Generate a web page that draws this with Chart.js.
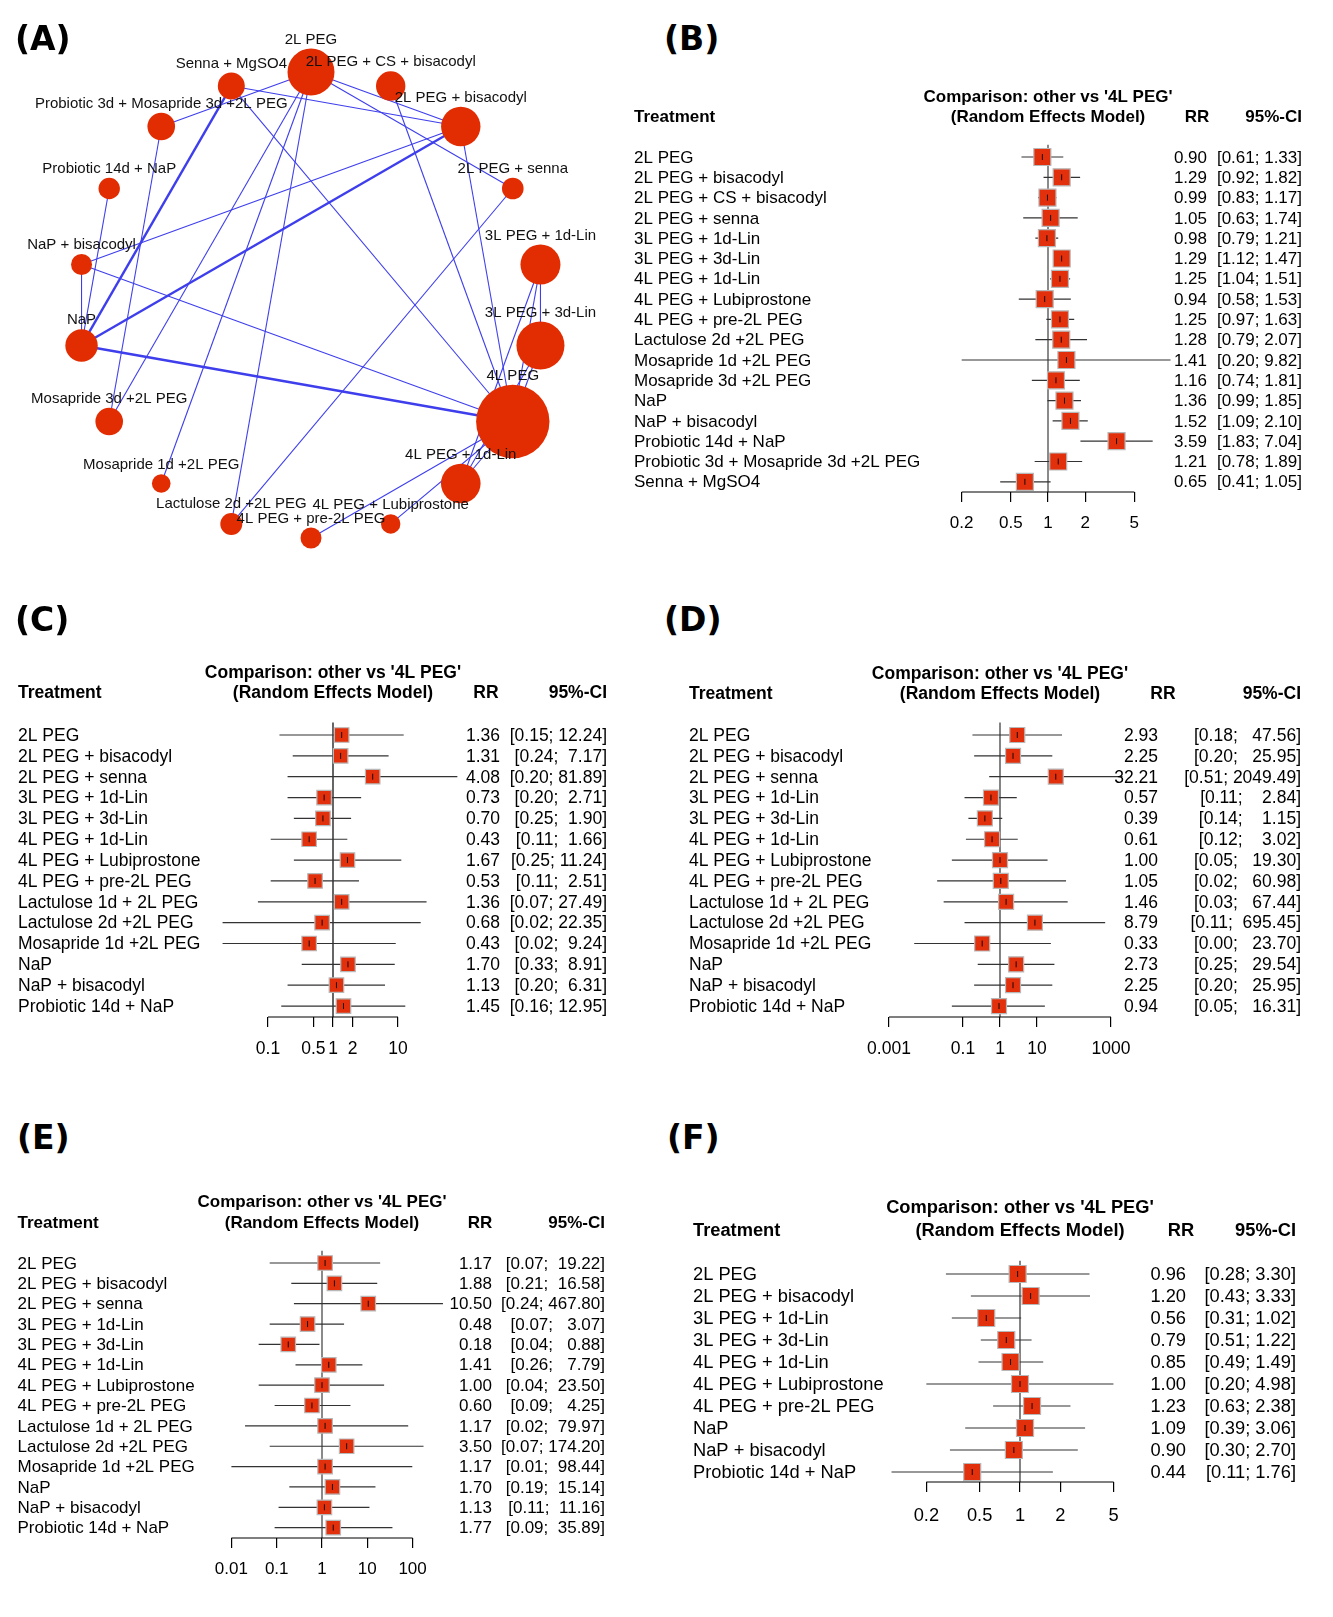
<!DOCTYPE html>
<html>
<head>
<meta charset="utf-8">
<script src="https://cdn.jsdelivr.net/npm/chart.js@4.4.1/dist/chart.umd.min.js"></script>
<style>
    body { margin: 0; background: #fff; }
    #page { position: relative; width: 1333px; height: 1617px; overflow: hidden; }
    canvas { position: absolute; }
    .tag { position: absolute; font: bold 33px 'DejaVu Sans', sans-serif; line-height: 33px; color: #000; }
</style>
</head>
<body>
<div id="page">
    <canvas id="chartA"></canvas>
    <canvas id="chartB"></canvas>
    <canvas id="chartC"></canvas>
    <canvas id="chartD"></canvas>
    <canvas id="chartE"></canvas>
    <canvas id="chartF"></canvas>
    <div class="tag" style="left:15px;top:22px">(A)</div>
    <div class="tag" style="left:664px;top:22px">(B)</div>
    <div class="tag" style="left:15px;top:603px">(C)</div>
    <div class="tag" style="left:664px;top:603px">(D)</div>
    <div class="tag" style="left:17px;top:1121px">(E)</div>
    <div class="tag" style="left:667px;top:1121px">(F)</div>
</div>
<script>
// ---- (A) network of treatments ----
const nodes = ['2L PEG', '2L PEG + CS + bisacodyl', '2L PEG + bisacodyl', '2L PEG + senna',
    '3L PEG + 1d-Lin', '3L PEG + 3d-Lin', '4L PEG', '4L PEG + 1d-Lin', '4L PEG + Lubiprostone',
    '4L PEG + pre-2L PEG', 'Lactulose 2d +2L PEG', 'Mosapride 1d +2L PEG', 'Mosapride 3d +2L PEG',
    'NaP', 'NaP + bisacodyl', 'Probiotic 14d + NaP', 'Probiotic 3d + Mosapride 3d +2L PEG', 'Senna + MgSO4'];
const nodeSize = [23.5, 14.7, 19.7, 10.8, 20, 24, 36.7, 19.8, 9.7, 10.5, 11, 9.3, 13.8, 16.2, 10.5, 10.7, 13.8, 13.5];
// [treatment, treatment, number of studies]
const edges = [
    ['2L PEG', 'Probiotic 3d + Mosapride 3d +2L PEG', 1],
    ['2L PEG', '2L PEG + bisacodyl', 1],
    ['2L PEG', '2L PEG + senna', 1],
    ['2L PEG', 'Mosapride 3d +2L PEG', 1],
    ['2L PEG', 'Mosapride 1d +2L PEG', 1],
    ['2L PEG', 'Lactulose 2d +2L PEG', 1],
    ['Senna + MgSO4', '2L PEG + bisacodyl', 1],
    ['Senna + MgSO4', '4L PEG', 1],
    ['Senna + MgSO4', 'NaP', 2],
    ['2L PEG + CS + bisacodyl', '4L PEG', 1],
    ['2L PEG + bisacodyl', '4L PEG', 1],
    ['2L PEG + bisacodyl', 'NaP', 2],
    ['2L PEG + bisacodyl', 'NaP + bisacodyl', 1],
    ['2L PEG + senna', 'Lactulose 2d +2L PEG', 1],
    ['3L PEG + 1d-Lin', '3L PEG + 3d-Lin', 1],
    ['3L PEG + 1d-Lin', '4L PEG', 1],
    ['3L PEG + 1d-Lin', '4L PEG + 1d-Lin', 1],
    ['3L PEG + 3d-Lin', '4L PEG', 1],
    ['3L PEG + 3d-Lin', '4L PEG + 1d-Lin', 1],
    ['4L PEG', '4L PEG + 1d-Lin', 1],
    ['4L PEG', '4L PEG + Lubiprostone', 1],
    ['4L PEG', '4L PEG + pre-2L PEG', 1],
    ['4L PEG', 'NaP', 2],
    ['4L PEG', 'NaP + bisacodyl', 1],
    ['NaP', 'NaP + bisacodyl', 1],
    ['NaP', 'Probiotic 14d + NaP', 1],
    ['Probiotic 3d + Mosapride 3d +2L PEG', 'Mosapride 3d +2L PEG', 1]
];

// ---- (B) ----
const treatB = ['2L PEG', '2L PEG + bisacodyl', '2L PEG + CS + bisacodyl', '2L PEG + senna', '3L PEG + 1d-Lin',
    '3L PEG + 3d-Lin', '4L PEG + 1d-Lin', '4L PEG + Lubiprostone', '4L PEG + pre-2L PEG', 'Lactulose 2d +2L PEG',
    'Mosapride 1d +2L PEG', 'Mosapride 3d +2L PEG', 'NaP', 'NaP + bisacodyl', 'Probiotic 14d + NaP',
    'Probiotic 3d + Mosapride 3d +2L PEG', 'Senna + MgSO4'];
const rrB = [0.90, 1.29, 0.99, 1.05, 0.98, 1.29, 1.25, 0.94, 1.25, 1.28, 1.41, 1.16, 1.36, 1.52, 3.59, 1.21, 0.65];
const loB = [0.61, 0.92, 0.83, 0.63, 0.79, 1.12, 1.04, 0.58, 0.97, 0.79, 0.20, 0.74, 0.99, 1.09, 1.83, 0.78, 0.41];
const hiB = [1.33, 1.82, 1.17, 1.74, 1.21, 1.47, 1.51, 1.53, 1.63, 2.07, 9.82, 1.81, 1.85, 2.10, 7.04, 1.89, 1.05];
const ticksB = [0.2, 0.5, 1, 2, 5];

// ---- (C) (D) (E) share treatments ----
const treatCDE = ['2L PEG', '2L PEG + bisacodyl', '2L PEG + senna', '3L PEG + 1d-Lin', '3L PEG + 3d-Lin',
    '4L PEG + 1d-Lin', '4L PEG + Lubiprostone', '4L PEG + pre-2L PEG', 'Lactulose 1d + 2L PEG',
    'Lactulose 2d +2L PEG', 'Mosapride 1d +2L PEG', 'NaP', 'NaP + bisacodyl', 'Probiotic 14d + NaP'];

const rrC = [1.36, 1.31, 4.08, 0.73, 0.70, 0.43, 1.67, 0.53, 1.36, 0.68, 0.43, 1.70, 1.13, 1.45];
const loC = [0.15, 0.24, 0.20, 0.20, 0.25, 0.11, 0.25, 0.11, 0.07, 0.02, 0.02, 0.33, 0.20, 0.16];
const hiC = [12.24, 7.17, 81.89, 2.71, 1.90, 1.66, 11.24, 2.51, 27.49, 22.35, 9.24, 8.91, 6.31, 12.95];
const ticksC = [0.1, 0.5, 1, 2, 10];

const rrD = [2.93, 2.25, 32.21, 0.57, 0.39, 0.61, 1.00, 1.05, 1.46, 8.79, 0.33, 2.73, 2.25, 0.94];
const loD = [0.18, 0.20, 0.51, 0.11, 0.14, 0.12, 0.05, 0.02, 0.03, 0.11, 0.0048, 0.25, 0.20, 0.05];
const hiD = [47.56, 25.95, 2049.49, 2.84, 1.15, 3.02, 19.30, 60.98, 67.44, 695.45, 23.70, 29.54, 25.95, 16.31];
const ticksD = [0.001, 0.1, 1, 10, 1000];

const rrE = [1.17, 1.88, 10.50, 0.48, 0.18, 1.41, 1.00, 0.60, 1.17, 3.50, 1.17, 1.70, 1.13, 1.77];
const loE = [0.07, 0.21, 0.24, 0.07, 0.04, 0.26, 0.04, 0.09, 0.02, 0.07, 0.01, 0.19, 0.11, 0.09];
const hiE = [19.22, 16.58, 467.80, 3.07, 0.88, 7.79, 23.50, 4.25, 79.97, 174.20, 98.44, 15.14, 11.16, 35.89];
const ticksE = [0.01, 0.1, 1, 10, 100];

// ---- (F) ----
const treatF = ['2L PEG', '2L PEG + bisacodyl', '3L PEG + 1d-Lin', '3L PEG + 3d-Lin', '4L PEG + 1d-Lin',
    '4L PEG + Lubiprostone', '4L PEG + pre-2L PEG', 'NaP', 'NaP + bisacodyl', 'Probiotic 14d + NaP'];
const rrF = [0.96, 1.20, 0.56, 0.79, 0.85, 1.00, 1.23, 1.09, 0.90, 0.44];
const loF = [0.28, 0.43, 0.31, 0.51, 0.49, 0.20, 0.63, 0.39, 0.30, 0.11];
const hiF = [3.30, 3.33, 1.02, 1.22, 1.49, 4.98, 2.38, 3.06, 2.70, 1.76];
const ticksF = [0.2, 0.5, 1, 2, 5];

const FONT = '"Liberation Sans", Arial, sans-serif';

function place(canvas, L) {
    canvas.width = L.width;
    canvas.height = L.height;
    canvas.style.left = L.left + 'px';
    canvas.style.top = L.top + 'px';
}

function drawNetwork() {
    const L = { left: 0, top: 0, width: 625, height: 615, cx: 311, cy: 305, R: 233 };
    const canvas = document.getElementById('chartA');
    place(canvas, L);

    // nodes sit on a circle, clockwise from the top
    const pos = nodes.map((n, i) => {
        const a = (90 - i * 360 / nodes.length) * Math.PI / 180;
        return { x: Math.cos(a), y: Math.sin(a) };
    });

    const edgeSets = edges.map(([a, b, k]) => ({
        data: [pos[nodes.indexOf(a)], pos[nodes.indexOf(b)]],
        showLine: true,
        borderColor: 'rgb(62, 62, 236)',
        borderWidth: k > 1 ? 2.4 : 1.1,
        pointRadius: 0,
        order: 2
    }));

    const labels = {
        id: 'nodeLabels',
        afterDatasetsDraw(chart) {
            const { ctx, scales: { x, y } } = chart;
            ctx.save();
            ctx.font = '15px ' + FONT;
            ctx.fillStyle = '#111';
            ctx.textAlign = 'center';
            ctx.textBaseline = 'middle';
            pos.forEach((p, i) => {
                ctx.fillText(nodes[i], x.getPixelForValue(p.x), y.getPixelForValue(p.y) - nodeSize[i] - 9);
            });
            ctx.restore();
        }
    };

    new Chart(canvas, {
        type: 'scatter',
        data: {
            datasets: [...edgeSets, {
                type: 'bubble',
                data: pos.map((p, i) => ({ x: p.x, y: p.y, r: nodeSize[i] })),
                backgroundColor: '#e22c02',
                borderWidth: 0,
                order: 0
            }]
        },
        options: {
            responsive: false,
            animation: false,
            layout: { padding: 0, autoPadding: false },
            plugins: { legend: { display: false }, tooltip: { enabled: false } },
            scales: {
                x: { type: 'linear', display: false, bounds: 'data', min: -L.cx / L.R, max: (L.width - L.cx) / L.R },
                y: { type: 'linear', display: false, bounds: 'data', min: -(L.height - L.cy) / L.R, max: L.cy / L.R }
            }
        },
        plugins: [labels]
    });
}

function forest(id, treat, rr, lo, hi, ticks, L) {
    const canvas = document.getElementById(id);
    place(canvas, L);

    const rows = treat.map((t, i) => i);
    const yMin = -(L.row0 - L.areaT) / L.sp;
    const yMax = (L.axisY - L.row0) / L.sp;
    const xMin = Math.pow(10, (L.areaL - L.p1) / L.dec);
    const xMax = Math.pow(10, (L.areaR - L.p1) / L.dec);

    const ciPts = [];
    rows.forEach(i => ciPts.push({ x: lo[i], y: i }, { x: hi[i], y: i }, { x: null, y: null }));
    const est = rows.map(i => ({ x: rr[i], y: i }));

    // R-style padded CI strings
    const wl = Math.max(...lo.map(v => v.toFixed(2).length));
    const wh = Math.max(...hi.map(v => v.toFixed(2).length));
    const ciTxt = rows.map(i => '[' + lo[i].toFixed(2).padStart(wl) + '; ' + hi[i].toFixed(2).padStart(wh) + ']');

    const font = L.font + 'px ' + FONT;
    const bold = 'bold ' + L.font + 'px ' + FONT;
    const X = v => v - L.left;
    const Y = v => v - L.top;

    const text = {
        id: 'forestText',
        afterDraw(chart) {
            const { ctx, chartArea, scales: { x, y } } = chart;
            ctx.save();
            // axis line only between first and last tick
            ctx.strokeStyle = '#000';
            ctx.lineWidth = 1.2;
            ctx.beginPath();
            ctx.moveTo(x.getPixelForValue(ticks[0]), chartArea.bottom);
            ctx.lineTo(x.getPixelForValue(ticks[ticks.length - 1]), chartArea.bottom);
            ctx.stroke();

            ctx.fillStyle = '#000';
            ctx.textBaseline = 'middle';
            ctx.font = bold;
            ctx.textAlign = 'center';
            const mid = x.getPixelForValue(1);
            ctx.fillText("Comparison: other vs '4L PEG'", mid, Y(L.h1Y));
            ctx.fillText('(Random Effects Model)', mid, Y(L.h2Y));
            ctx.fillText('RR', X(L.rrHX), Y(L.h2Y));
            ctx.textAlign = 'left';
            ctx.fillText('Treatment', X(L.labelX), Y(L.h2Y));
            ctx.textAlign = 'right';
            ctx.fillText('95%-CI', X(L.ciX), Y(L.h2Y));

            ctx.font = font;
            rows.forEach(i => {
                const py = y.getPixelForValue(i) + 1;
                ctx.textAlign = 'left';
                ctx.fillText(treat[i], X(L.labelX), py);
                ctx.textAlign = 'right';
                ctx.fillText(rr[i].toFixed(2), X(L.rrX), py);
                ctx.fillText(ciTxt[i], X(L.ciX), py);
            });
            ctx.restore();
        }
    };

    new Chart(canvas, {
        type: 'scatter',
        data: {
            datasets: [
                {
                    data: [{ x: 1, y: -0.6 }, { x: 1, y: yMax }],
                    showLine: true, borderColor: L.refColor, borderWidth: L.refW, pointRadius: 0, order: 3
                },
                {
                    data: ciPts,
                    showLine: true, spanGaps: false, borderColor: '#333', borderWidth: 1.2, pointRadius: 0, order: 2
                },
                {
                    data: est,
                    pointStyle: 'rect', pointRadius: L.sq / Math.SQRT2,
                    backgroundColor: '#e3300c', borderColor: '#b8b8b8', borderWidth: 1.2, order: 1
                },
                {
                    data: est,
                    pointStyle: 'line', rotation: 90, pointRadius: 3,
                    borderColor: '#000', borderWidth: 0.9, order: 0
                }
            ]
        },
        options: {
            responsive: false,
            animation: false,
            layout: {
                autoPadding: false,
                padding: {
                    left: X(L.areaL), right: L.width - X(L.areaR),
                    top: Y(L.areaT), bottom: L.height - Y(L.axisY) - L.axisH
                }
            },
            plugins: { legend: { display: false }, tooltip: { enabled: false } },
            scales: {
                x: {
                    type: 'logarithmic', position: 'bottom', bounds: 'data', min: xMin, max: xMax,
                    afterBuildTicks: s => { s.ticks = ticks.map(v => ({ value: v })); },
                    afterFit: s => { s.height = L.axisH; },
                    grid: { drawOnChartArea: false, drawTicks: true, tickLength: 10, color: '#000', lineWidth: 1.2 },
                    border: { display: false },
                    ticks: {
                        autoSkip: false, maxRotation: 0, padding: L.tickPad, color: '#000',
                        font: { family: 'Liberation Sans', size: L.font },
                        callback: v => String(v)
                    }
                },
                y: { type: 'linear', display: false, reverse: true, bounds: 'data', min: yMin, max: yMax }
            }
        },
        plugins: [text]
    });
}

document.addEventListener('DOMContentLoaded', () => {
    drawNetwork();

    forest('chartB', treatB, rrB, loB, hiB, ticksB, {
        left: 620, top: 75, width: 713, height: 475,
        areaL: 915, areaR: 1172, areaT: 141, axisY: 492, axisH: 40, tickPad: 11,
        p1: 1048, dec: 123.5, row0: 157, sp: 20.3,
        labelX: 634, rrX: 1207, ciX: 1302, rrHX: 1197, h1Y: 97, h2Y: 117,
        font: 17, sq: 17, refColor: '#8a8a8a', refW: 2
    });

    forest('chartC', treatCDE, rrC, loC, hiC, ticksC, {
        left: 0, top: 640, width: 640, height: 440,
        areaL: 205, areaR: 462, areaT: 718, axisY: 1017, axisH: 45, tickPad: 12,
        p1: 333, dec: 65, row0: 735, sp: 20.85,
        labelX: 18, rrX: 500, ciX: 607, rrHX: 486, h1Y: 673, h2Y: 693,
        font: 17.5, sq: 14.5, refColor: '#000', refW: 1.2
    });

    forest('chartD', treatCDE, rrD, loD, hiD, ticksD, {
        left: 640, top: 640, width: 693, height: 440,
        areaL: 870, areaR: 1128, areaT: 718, axisY: 1017, axisH: 45, tickPad: 12,
        p1: 1000, dec: 37, row0: 735, sp: 20.85,
        labelX: 689, rrX: 1158, ciX: 1301, rrHX: 1163, h1Y: 674, h2Y: 694,
        font: 17.5, sq: 15, refColor: '#333', refW: 1.2
    });

    forest('chartE', treatCDE, rrE, loE, hiE, ticksE, {
        left: 0, top: 1160, width: 640, height: 457,
        areaL: 205, areaR: 452, areaT: 1247, axisY: 1538, axisH: 45, tickPad: 11,
        p1: 322, dec: 45.3, row0: 1263, sp: 20.36,
        labelX: 17.5, rrX: 492, ciX: 605, rrHX: 480, h1Y: 1202, h2Y: 1223,
        font: 17, sq: 14.5, refColor: '#8a8a8a', refW: 2
    });

    forest('chartF', treatF, rrF, loF, hiF, ticksF, {
        left: 640, top: 1160, width: 693, height: 457,
        areaL: 875, areaR: 1128, areaT: 1256, axisY: 1482, axisH: 45, tickPad: 13,
        p1: 1020, dec: 134, row0: 1274, sp: 22,
        labelX: 693, rrX: 1186, ciX: 1296, rrHX: 1181, h1Y: 1208, h2Y: 1231,
        font: 18.3, sq: 17, refColor: '#333', refW: 1.2
    });
});
</script>
</body>
</html>
